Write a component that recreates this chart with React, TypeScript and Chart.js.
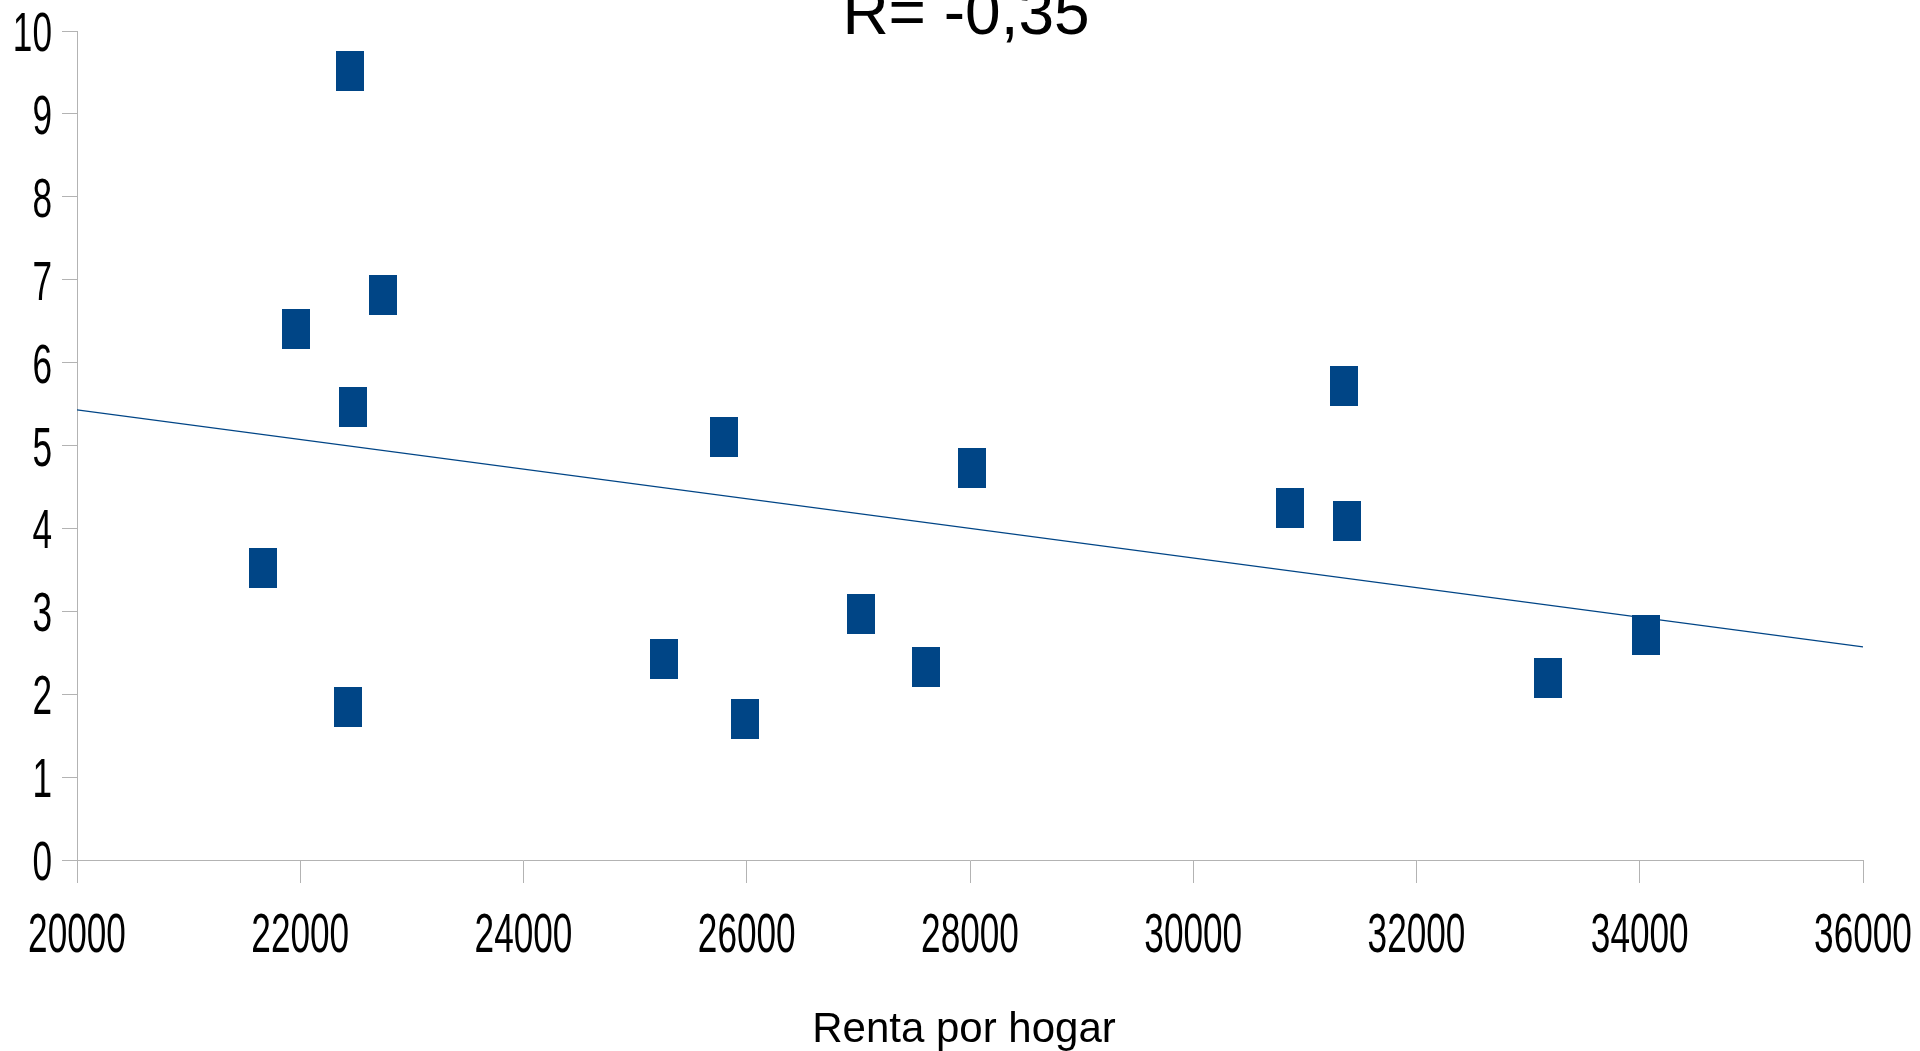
import React, { useEffect, useRef } from "react";
import { Chart, registerables } from "chart.js";

Chart.register(...registerables);

const titleText = "R= -0,35";
const xAxisTitle = "Renta por hogar";
const xTickLabels = ["20000", "22000", "24000", "26000", "28000", "30000", "32000", "34000", "36000"];
const yTickLabels = ["0", "1", "2", "3", "4", "5", "6", "7", "8", "9", "10"];

const rentaX = [22447, 22744, 21964, 22469, 21668, 22425, 25257, 25794, 25981, 27023, 27605, 28022, 30864, 31347, 31380, 33180, 34058];
const valorY = [9.52, 6.82, 6.41, 5.47, 3.52, 1.85, 2.42, 5.1, 1.7, 2.97, 2.33, 4.73, 4.25, 5.72, 4.09, 2.2, 2.72];

const trendX = [20000, 36000];
const trendY = [5.43, 2.57];

const BLUE = "#004586";
const AXIS = "#b3b3b3";
const TICK_FONT = "55px 'Liberation Sans', Arial, sans-serif";
const TICK_SCALE_X = 0.64;

export default function App() {
  const ref = useRef<HTMLCanvasElement | null>(null);
  useEffect(() => {
    const canvas = ref.current;
    if (!canvas) return;
    const marker = document.createElement("canvas");
    marker.width = 28;
    marker.height = 40;
    const mctx = marker.getContext("2d");
    if (mctx) {
      mctx.fillStyle = BLUE;
      mctx.fillRect(0, 0, 28, 40);
    }
    const textPlugin = {
      id: "texts",
      afterDraw(chart: any) {
        const ctx = chart.ctx;
        const xs = chart.scales.x;
        const ys = chart.scales.y;
        ctx.save();
        ctx.fillStyle = "#000";
        // title
        ctx.font = "64px 'Liberation Sans', Arial, sans-serif";
        ctx.textAlign = "center";
        ctx.textBaseline = "alphabetic";
        ctx.fillText(titleText, 966, 33.5);
        // x axis title
        ctx.font = "42px 'Liberation Sans', Arial, sans-serif";
        ctx.fillText(xAxisTitle, 964, 1042);
        // tick labels (condensed)
        ctx.font = TICK_FONT;
        xTickLabels.forEach((t) => {
          const px = xs.getPixelForValue(Number(t));
          ctx.save();
          ctx.translate(px, 952);
          ctx.scale(TICK_SCALE_X, 1);
          ctx.textAlign = "center";
          ctx.fillText(t, 0, 0);
          ctx.restore();
        });
        yTickLabels.forEach((t) => {
          const py = ys.getPixelForValue(Number(t));
          ctx.save();
          ctx.translate(52, py + 20);
          ctx.scale(TICK_SCALE_X, 1);
          ctx.textAlign = "right";
          ctx.fillText(t, 0, 0);
          ctx.restore();
        });
        ctx.restore();
      },
    };
    const chart = new Chart(canvas, {
      type: "scatter",
      data: {
        datasets: [
          {
            label: "puntos",
            data: rentaX.map((x, i) => ({ x, y: valorY[i] })),
            pointStyle: marker as any,
            pointRadius: 14,
            backgroundColor: BLUE,
            borderColor: BLUE,
            showLine: false,
          },
          {
            label: "tendencia",
            type: "line" as any,
            data: trendX.map((x, i) => ({ x, y: trendY[i] })),
            borderColor: BLUE,
            borderWidth: 1.3,
            pointRadius: 0,
            showLine: true,
            fill: false,
          },
        ],
      },
      options: {
        animation: false,
        responsive: false,
        devicePixelRatio: 1,
        layout: { padding: { top: 31, right: 57, left: 0, bottom: 0 } },
        plugins: { legend: { display: false }, tooltip: { enabled: false }, title: { display: false } },
        scales: {
          x: {
            type: "linear",
            min: 20000,
            max: 36000,
            afterBuildTicks: (s: any) => {
              s.ticks = xTickLabels.map((t) => ({ value: Number(t) }));
            },
            afterFit: (s: any) => {
              s.height = 191;
            },
            ticks: { display: false },
            grid: { drawOnChartArea: false, drawTicks: true, tickLength: 23, color: AXIS, lineWidth: 1 },
            border: { color: AXIS, width: 1 },
          },
          y: {
            type: "linear",
            min: 0,
            max: 10,
            afterBuildTicks: (s: any) => {
              s.ticks = yTickLabels.map((t) => ({ value: Number(t) }));
            },
            afterFit: (s: any) => {
              s.width = 77;
            },
            ticks: { display: false },
            grid: { drawOnChartArea: false, drawTicks: true, tickLength: 15, color: AXIS, lineWidth: 1 },
            border: { color: AXIS, width: 1 },
          },
        },
      },
      plugins: [textPlugin],
    } as any);
    return () => chart.destroy();
  }, []);
  return (
    <div style={{ position: "fixed", left: 0, top: 0, width: 1920, height: 1051, background: "#fff" }}>
      <canvas ref={ref} width={1920} height={1051} style={{ width: 1920, height: 1051, display: "block" }} />
    </div>
  );
}
